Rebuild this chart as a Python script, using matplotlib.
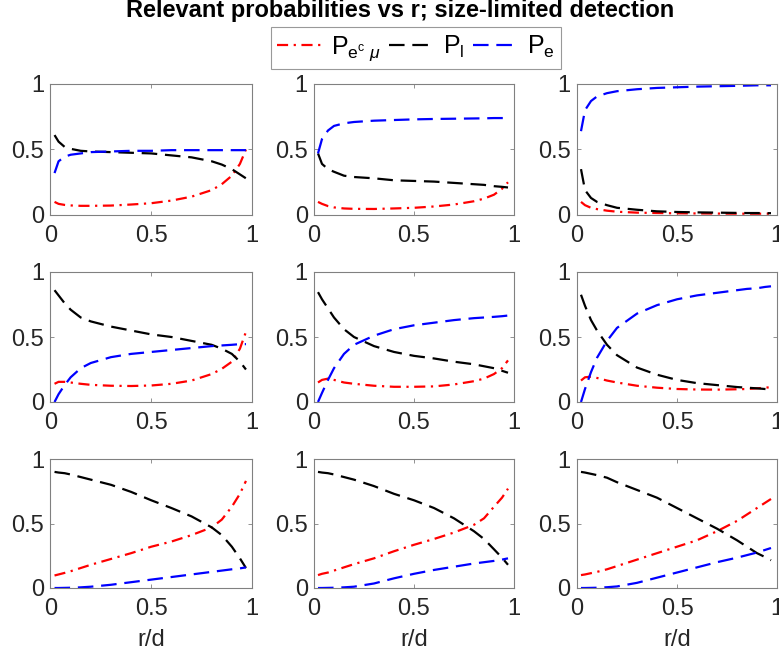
import numpy as np
import matplotlib
matplotlib.use('Agg')
import matplotlib.pyplot as plt

plt.rcParams['font.family'] = ['Liberation Sans', 'DejaVu Sans']
plt.rcParams['mathtext.fontset'] = 'custom'
plt.rcParams['mathtext.rm'] = 'Liberation Sans'
plt.rcParams['mathtext.it'] = 'Liberation Sans:italic'

# r/d sample points (common to all panels)
r = [0.02, 0.04, 0.07, 0.1, 0.15, 0.2, 0.3, 0.4, 0.5, 0.6, 0.7, 0.8, 0.85, 0.9, 0.94, 0.97]

# P_{e^c mu} (red), P_l (black), P_e (blue) for each of the 9 panels, row by row
pec_1 = [0.10, 0.085, 0.077, 0.073, 0.07, 0.07, 0.072, 0.08, 0.09, 0.11, 0.14, 0.19, 0.235, 0.30, 0.39, 0.50]
pl_1 = [0.61, 0.56, 0.52, 0.505, 0.49, 0.485, 0.48, 0.475, 0.47, 0.455, 0.44, 0.41, 0.385, 0.35, 0.31, 0.28]
pe_1 = [0.32, 0.41, 0.445, 0.46, 0.47, 0.48, 0.485, 0.49, 0.49, 0.495, 0.495, 0.495, 0.495, 0.495, 0.495, 0.495]

pec_2 = [0.10, 0.085, 0.068, 0.058, 0.05, 0.047, 0.046, 0.05, 0.055, 0.065, 0.08, 0.105, 0.125, 0.155, 0.20, 0.25]
pl_2 = [0.47, 0.39, 0.35, 0.33, 0.30, 0.29, 0.28, 0.265, 0.26, 0.255, 0.245, 0.235, 0.23, 0.22, 0.215, 0.21]
pe_2 = [0.47, 0.58, 0.645, 0.68, 0.70, 0.71, 0.72, 0.725, 0.73, 0.733, 0.735, 0.737, 0.738, 0.74, 0.74, 0.74]

pec_3 = [0.10, 0.075, 0.055, 0.045, 0.033, 0.025, 0.018, 0.015, 0.013, 0.012, 0.011, 0.01, 0.01, 0.01, 0.01, 0.01]
pl_3 = [0.35, 0.19, 0.13, 0.10, 0.075, 0.055, 0.04, 0.028, 0.023, 0.02, 0.018, 0.016, 0.015, 0.015, 0.014, 0.014]
pe_3 = [0.64, 0.80, 0.87, 0.905, 0.93, 0.945, 0.96, 0.97, 0.975, 0.98, 0.983, 0.986, 0.988, 0.99, 0.99, 0.99]

pec_4 = [0.14, 0.155, 0.155, 0.15, 0.14, 0.132, 0.125, 0.123, 0.127, 0.14, 0.165, 0.215, 0.255, 0.31, 0.41, 0.54]
pl_4 = [0.86, 0.82, 0.76, 0.71, 0.65, 0.62, 0.58, 0.55, 0.52, 0.50, 0.47, 0.44, 0.41, 0.37, 0.31, 0.25]
pe_4 = [0.0, 0.06, 0.13, 0.19, 0.26, 0.30, 0.345, 0.37, 0.385, 0.40, 0.415, 0.43, 0.435, 0.44, 0.445, 0.445]

pec_5 = [0.15, 0.17, 0.18, 0.17, 0.15, 0.14, 0.125, 0.117, 0.117, 0.12, 0.135, 0.16, 0.18, 0.215, 0.26, 0.32]
pl_5 = [0.845, 0.79, 0.72, 0.65, 0.56, 0.50, 0.43, 0.385, 0.355, 0.335, 0.31, 0.29, 0.275, 0.26, 0.24, 0.225]
pe_5 = [0.0, 0.07, 0.17, 0.26, 0.37, 0.44, 0.51, 0.56, 0.59, 0.61, 0.63, 0.645, 0.65, 0.655, 0.66, 0.665]

pec_6 = [0.165, 0.19, 0.195, 0.185, 0.165, 0.15, 0.125, 0.11, 0.10, 0.096, 0.095, 0.098, 0.10, 0.105, 0.11, 0.114]
pl_6 = [0.825, 0.74, 0.63, 0.55, 0.44, 0.36, 0.265, 0.21, 0.17, 0.145, 0.13, 0.115, 0.11, 0.105, 0.10, 0.096]
pe_6 = [0.0, 0.10, 0.23, 0.34, 0.47, 0.57, 0.68, 0.745, 0.79, 0.82, 0.84, 0.86, 0.87, 0.875, 0.885, 0.89]

pec_7 = [0.097, 0.105, 0.117, 0.13, 0.155, 0.18, 0.225, 0.27, 0.32, 0.36, 0.41, 0.47, 0.53, 0.63, 0.73, 0.83]
pl_7 = [0.90, 0.895, 0.89, 0.88, 0.86, 0.84, 0.80, 0.745, 0.68, 0.62, 0.555, 0.47, 0.41, 0.32, 0.23, 0.155]
pe_7 = [0.0, 0.0, 0.001, 0.002, 0.005, 0.01, 0.025, 0.045, 0.065, 0.085, 0.105, 0.125, 0.135, 0.145, 0.152, 0.16]

pec_8 = [0.10, 0.11, 0.12, 0.135, 0.16, 0.185, 0.23, 0.285, 0.335, 0.38, 0.43, 0.49, 0.54, 0.63, 0.70, 0.77]
pl_8 = [0.90, 0.895, 0.89, 0.88, 0.86, 0.84, 0.79, 0.73, 0.68, 0.62, 0.54, 0.44, 0.38, 0.30, 0.235, 0.18]
pe_8 = [0.0, 0.0, 0.001, 0.002, 0.005, 0.01, 0.035, 0.075, 0.11, 0.14, 0.165, 0.19, 0.20, 0.21, 0.22, 0.23]

pec_9 = [0.10, 0.105, 0.115, 0.125, 0.145, 0.17, 0.22, 0.27, 0.32, 0.37, 0.44, 0.52, 0.57, 0.62, 0.66, 0.69]
pl_9 = [0.90, 0.895, 0.885, 0.875, 0.855, 0.82, 0.76, 0.70, 0.62, 0.54, 0.46, 0.37, 0.32, 0.27, 0.24, 0.215]
pe_9 = [0.0, 0.0, 0.001, 0.002, 0.006, 0.012, 0.04, 0.08, 0.12, 0.16, 0.20, 0.235, 0.255, 0.275, 0.295, 0.31]

pec_all = [pec_1, pec_2, pec_3, pec_4, pec_5, pec_6, pec_7, pec_8, pec_9]
pl_all = [pl_1, pl_2, pl_3, pl_4, pl_5, pl_6, pl_7, pl_8, pl_9]
pe_all = [pe_1, pe_2, pe_3, pe_4, pe_5, pe_6, pe_7, pe_8, pe_9]

labels = [r'P$_{\mathrm{e}^{\mathrm{c}}\ \mu}$', r'P$_\mathrm{l}$', r'P$_\mathrm{e}$']

W, H = 779, 657
fig = plt.figure(figsize=(W / 100, H / 100), dpi=100)

# axes boxes in pixels
col_left = [50.5, 314, 577]
col_w = [201.5, 200, 200]
row_top = [84, 272, 459]
row_h = [131, 130, 129]

axs = []
for i in range(3):
    for j in range(3):
        ax = fig.add_axes([col_left[j] / W, 1 - (row_top[i] + row_h[i]) / H,
                           col_w[j] / W, row_h[i] / H])
        k = i * 3 + j
        l1, = ax.plot(r, pec_all[k], color='red', lw=1.6, linestyle=(0, (5, 2.5, 1, 2.5)))
        l2, = ax.plot(r, pl_all[k], color='black', lw=1.6, linestyle=(0, (7, 3.5)))
        l3, = ax.plot(r, pe_all[k], color='blue', lw=1.6, linestyle=(0, (7, 3.5)))
        ax.set_xlim(0, 1)
        ax.set_ylim(0, 1)
        ax.set_xticks([0, 0.5, 1])
        ax.set_yticks([0, 0.5, 1])
        ax.set_xticklabels(['0', '0.5', '1'])
        ax.set_yticklabels(['0', '0.5', '1'])
        ax.tick_params(direction='in', length=3, width=0.6, colors='#808080',
                       labelcolor='#262626', labelsize=17, top=True, right=True)
        ax.tick_params(axis='x', pad=7.5)
        ax.tick_params(axis='y', pad=4.5)
        for s in ax.spines.values():
            s.set_color('#808080')
            s.set_linewidth(0.8)
        if i == 2:
            ax.set_xlabel('r/d', fontsize=17, color='#262626', labelpad=6)
        axs.append(ax)

fig.text(400 / W, 1 - 17.5 / H, 'Relevant probabilities vs r; size-limited detection',
         ha='center', va='baseline', fontsize=17, fontweight='bold')

leg = fig.legend([l1, l2, l3], labels, ncol=3, loc='center',
                 bbox_to_anchor=(416 / W, 1 - 48 / H), fontsize=18,
                 handlelength=1.8, handletextpad=0.35, columnspacing=0.35,
                 frameon=True, fancybox=False, borderpad=0.25, borderaxespad=0)
leg.get_frame().set_edgecolor('#808080')
leg.get_frame().set_linewidth(0.8)

fig.savefig('out.png', dpi=100)
